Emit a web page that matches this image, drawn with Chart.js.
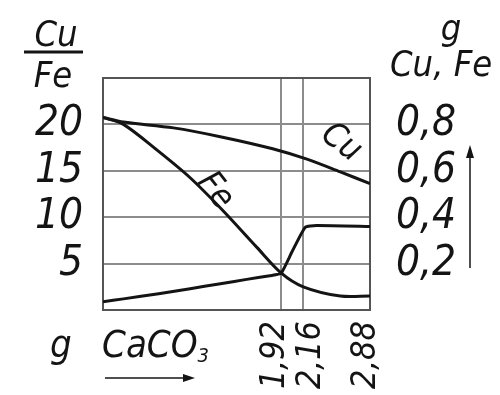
<!DOCTYPE html>
<html>
<head>
<meta charset="UTF-8" />
<title>Cu/Fe vs CaCO3</title>
<script src="https://cdn.jsdelivr.net/npm/chart.js"></script>
<style>
body { margin:0; background:#fff; }
canvas { display:block; }
</style>
</head>
<body>
<canvas id="chart" width="500" height="395"></canvas>
<script>
// x = g CaCO3 added
const xTicks = [0, 1.92, 2.16, 2.88];
const xTickShift = [0, -6, 8, -4]; // labels pushed apart so they don't collide

// Cu (g), right axis
const cuX = [0, 0.22, 0.76, 1.29, 1.83, 2.2, 2.56, 2.88];
const cuY = [0.83, 0.81, 0.785, 0.745, 0.695, 0.65, 0.595, 0.545];

// Fe (g), right axis
const feX = [0, 0.22, 0.58, 0.94, 1.29, 1.66, 1.92, 2.16, 2.56, 2.88];
const feY = [0.83, 0.80, 0.69, 0.57, 0.43, 0.27, 0.16, 0.10, 0.06, 0.06];

// Cu/Fe ratio, left axis
const ratioX = [0, 0.22, 0.6, 0.94, 1.25, 1.55, 1.8, 1.92, 2.04, 2.18, 2.3, 2.88];
const ratioY = [0.9, 1.2, 1.75, 2.3, 2.8, 3.3, 3.7, 3.95, 6.3, 8.9, 9.1, 9.0];

const pts = (xs, ys) => xs.map((x, i) => ({ x, y: ys[i] }));
const ink = '#141414';
const gridCol = '#8c8c8c';
const FAM = '"Liberation Sans Narrow", "DejaVu Sans Condensed", "Liberation Sans", Arial, sans-serif';
const fmt = v => v.toFixed(2).replace('.', ',');

const lineStyle = {
  borderColor: ink, borderWidth: 3, pointRadius: 0,
  tension: 0.3, fill: false
};

const textPlugin = {
  id: 'texts',
  afterDraw(chart) {
    const c = chart.ctx;
    const xs = chart.scales.x;
    c.save();
    c.fillStyle = ink;
    c.strokeStyle = ink;
    c.textAlign = 'center';
    c.textBaseline = 'alphabetic';

    // Cu / Fe fraction top left
    c.font = 'italic 36px ' + FAM;
    c.fillText('Cu', 56, 46);
    c.lineWidth = 3;
    c.beginPath(); c.moveTo(24, 52); c.lineTo(83, 52); c.stroke();
    c.fillText('Fe', 53, 87);

    // g / Cu, Fe top right
    c.fillText('g', 451, 40);
    c.textAlign = 'left';
    c.fillText('Cu, Fe', 390, 76);

    // upward arrow on right
    c.lineWidth = 1.5;
    c.beginPath(); c.moveTo(470, 268); c.lineTo(470, 150); c.stroke();
    c.beginPath(); c.moveTo(470, 145); c.lineTo(466, 158); c.lineTo(474, 158); c.closePath(); c.fill();

    // bottom caption
    c.font = 'italic 38px ' + FAM;
    c.fillText('g', 50, 357);
    c.fillText('CaCO', 102, 357);
    const w = c.measureText('CaCO').width;
    c.font = 'italic 20px ' + FAM;
    c.fillText('3', 102 + w, 362);

    // arrow under caption
    c.lineWidth = 1.5;
    c.beginPath(); c.moveTo(105, 378); c.lineTo(188, 378); c.stroke();
    c.beginPath(); c.moveTo(195, 378); c.lineTo(183, 374); c.lineTo(183, 382); c.closePath(); c.fill();

    // rotated x tick labels
    c.font = 'italic 34px ' + FAM;
    c.textAlign = 'right';
    c.textBaseline = 'middle';
    xTicks.forEach((v, i) => {
      if (v === 0) return;
      c.save();
      c.translate(xs.getPixelForValue(v) + xTickShift[i], xs.top + 11);
      c.rotate(-Math.PI / 2);
      c.fillText(fmt(v), 0, 0);
      c.restore();
    });

    // curve labels
    c.textAlign = 'center';
    c.font = 'italic 34px ' + FAM;
    c.save(); c.translate(341, 143); c.rotate(37 * Math.PI / 180); c.fillText('Cu', 0, 0); c.restore();
    c.save(); c.translate(215, 191); c.rotate(52 * Math.PI / 180); c.fillText('Fe', 0, 0); c.restore();
    c.restore();
  }
};

new Chart(document.getElementById('chart'), {
  type: 'line',
  data: {
    datasets: [
      { label: 'Cu', data: pts(cuX, cuY), yAxisID: 'y2', ...lineStyle },
      { label: 'Fe', data: pts(feX, feY), yAxisID: 'y2', ...lineStyle },
      { label: 'Cu/Fe', data: pts(ratioX, ratioY), yAxisID: 'y', ...lineStyle, tension: 0.15 }
    ]
  },
  options: {
    responsive: false,
    animation: false,
    devicePixelRatio: 1,
    layout: { padding: { top: 78, left: 0, right: 0, bottom: 0 } },
    plugins: { legend: { display: false }, tooltip: { enabled: false } },
    scales: {
      x: {
        type: 'linear', min: 0, max: 2.88,
        afterBuildTicks: s => { s.ticks = xTicks.map(v => ({ value: v })); },
        afterFit: s => { s.height = 85; },
        grid: { color: gridCol, lineWidth: 2, drawTicks: false },
        border: { color: '#555', width: 2 },
        ticks: { display: false, autoSkip: false }
      },
      xTop: {
        type: 'linear', position: 'top', min: 0, max: 2.88,
        afterFit: s => { s.height = 0; },
        grid: { display: false, drawTicks: false },
        border: { display: true, color: '#555', width: 2 },
        ticks: { display: false }
      },
      y: {
        position: 'left', min: 0, max: 25,
        afterFit: s => { s.width = 103; },
        grid: { color: gridCol, lineWidth: 2, drawTicks: false },
        border: { color: '#555', width: 2 },
        ticks: {
          autoSkip: false, stepSize: 5, padding: 20, color: ink,
          font: { family: FAM, style: 'italic', size: 42 },
          callback: v => (v === 0 || v === 25) ? '' : String(v)
        }
      },
      y2: {
        position: 'right', min: 0, max: 1,
        afterFit: s => { s.width = 130; },
        grid: { display: false, drawTicks: false },
        border: { color: '#555', width: 2 },
        ticks: {
          autoSkip: false, stepSize: 0.2, padding: 26, color: ink,
          font: { family: FAM, style: 'italic', size: 42 },
          callback: v => (v > 0.01 && v < 0.99) ? v.toFixed(1).replace('.', ',') : ''
        }
      }
    }
  },
  plugins: [textPlugin]
});
</script>
</body>
</html>
